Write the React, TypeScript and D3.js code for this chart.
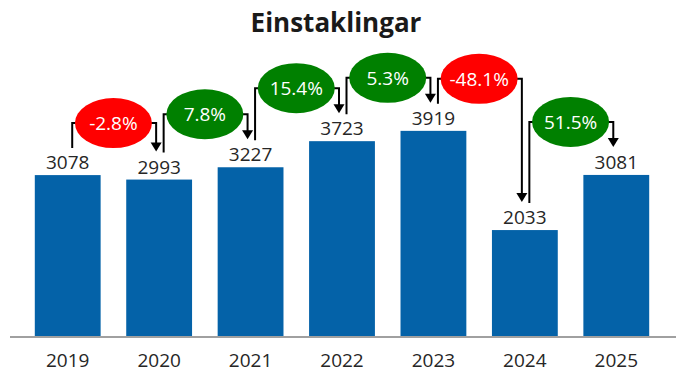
import React, { useEffect, useRef } from "react"
import * as d3 from "d3"

const years = ["2019", "2020", "2021", "2022", "2023", "2024", "2025"]
const counts = [3078, 2993, 3227, 3723, 3919, 2033, 3081]
const title = "Einstaklingar"

const WIDTH = 692
const HEIGHT = 372
const FONT = "'Open Sans', 'Noto Sans', sans-serif"
const BAR_COLOR = "#0462A8"
const UP_COLOR = "#008000"
const DOWN_COLOR = "#FF0000"

// plain hyphen for negatives, like the source chart
const pct = d3.formatLocale({
  decimal: ".",
  thousands: ",",
  grouping: [3],
  currency: ["", ""],
  minus: "-",
}).format(".1%")

export default function App() {
  const ref = useRef<SVGSVGElement>(null)

  useEffect(() => {
    if (!ref.current) return
    const svg = d3.select(ref.current)
    svg.selectAll("*").remove()

    const x = d3
      .scaleBand<string>()
      .domain(years)
      .range([22, 662])
      .paddingInner(0.28)
      .paddingOuter(0.14)

    const y = d3.scaleLinear().domain([0, 5000]).range([337, 74])

    const cx = (i: number) => x(years[i])! + x.bandwidth() / 2

    // title
    svg
      .append("text")
      .attr("x", 336)
      .attr("y", 32)
      .attr("text-anchor", "middle")
      .attr("font-family", FONT)
      .attr("font-weight", 700)
      .attr("font-size", 26)
      .attr("fill", "#1a1a1a")
      .text(title)

    // bars
    svg
      .append("g")
      .selectAll("rect")
      .data(counts)
      .join("rect")
      .attr("x", (_, i) => x(years[i])!)
      .attr("y", (d) => y(d))
      .attr("width", x.bandwidth())
      .attr("height", (d) => y(0) - y(d))
      .attr("fill", BAR_COLOR)

    // value labels
    svg
      .append("g")
      .selectAll("text")
      .data(counts)
      .join("text")
      .attr("x", (_, i) => cx(i))
      .attr("y", (d) => y(d) - 6)
      .attr("text-anchor", "middle")
      .attr("font-family", FONT)
      .attr("font-size", 19)
      .attr("fill", "#262626")
      .text((d) => d)

    // baseline
    svg
      .append("line")
      .attr("x1", 10)
      .attr("x2", 676)
      .attr("y1", y(0))
      .attr("y2", y(0))
      .attr("stroke", "#a0a0a0")
      .attr("stroke-width", 2)

    // x axis labels
    const xAxis = svg
      .append("g")
      .attr("transform", `translate(0,${y(0)})`)
      .call(d3.axisBottom(x).tickSize(0).tickPadding(17))
    xAxis.select(".domain").remove()
    xAxis
      .selectAll("text")
      .attr("font-family", FONT)
      .attr("font-size", 19)
      .attr("fill", "#262626")

    // change bubbles with elbow arrows
    const anchor = (i: number) => y(counts[i]) - 28
    const rx = 38.5
    const ry = 25
    const ann = svg.append("g")

    for (let i = 0; i < counts.length - 1; i++) {
      const change = (counts[i + 1] - counts[i]) / counts[i]
      const x0 = cx(i) + 4.5
      const x1 = cx(i + 1) - 3
      const mx = (cx(i) + cx(i + 1)) / 2
      const a0 = anchor(i) + 1
      const a1 = anchor(i + 1)
      const ey = Math.min(a0, a1) - 25

      const path = d3.path()
      path.moveTo(x0, a0)
      path.lineTo(x0, ey)
      path.lineTo(x1, ey)
      path.lineTo(x1, a1 - 8)
      ann
        .append("path")
        .attr("d", path.toString())
        .attr("fill", "none")
        .attr("stroke", "#000")
        .attr("stroke-width", 2)

      // arrow head
      ann
        .append("path")
        .attr("d", `M${x1 - 5.5},${a1 - 9}L${x1 + 5.5},${a1 - 9}L${x1},${a1}Z`)
        .attr("fill", "#000")

      ann
        .append("ellipse")
        .attr("cx", mx)
        .attr("cy", ey)
        .attr("rx", rx)
        .attr("ry", ry)
        .attr("fill", change < 0 ? DOWN_COLOR : UP_COLOR)

      ann
        .append("text")
        .attr("x", mx)
        .attr("y", ey)
        .attr("dy", "0.35em")
        .attr("text-anchor", "middle")
        .attr("font-family", FONT)
        .attr("font-size", 19)
        .attr("fill", "#fff")
        .text(pct(change))
    }
  }, [])

  return (
    <svg
      ref={ref}
      width={WIDTH}
      height={HEIGHT}
      style={{ position: "absolute", left: 0, top: 0, background: "#fff" }}
    />
  )
}
